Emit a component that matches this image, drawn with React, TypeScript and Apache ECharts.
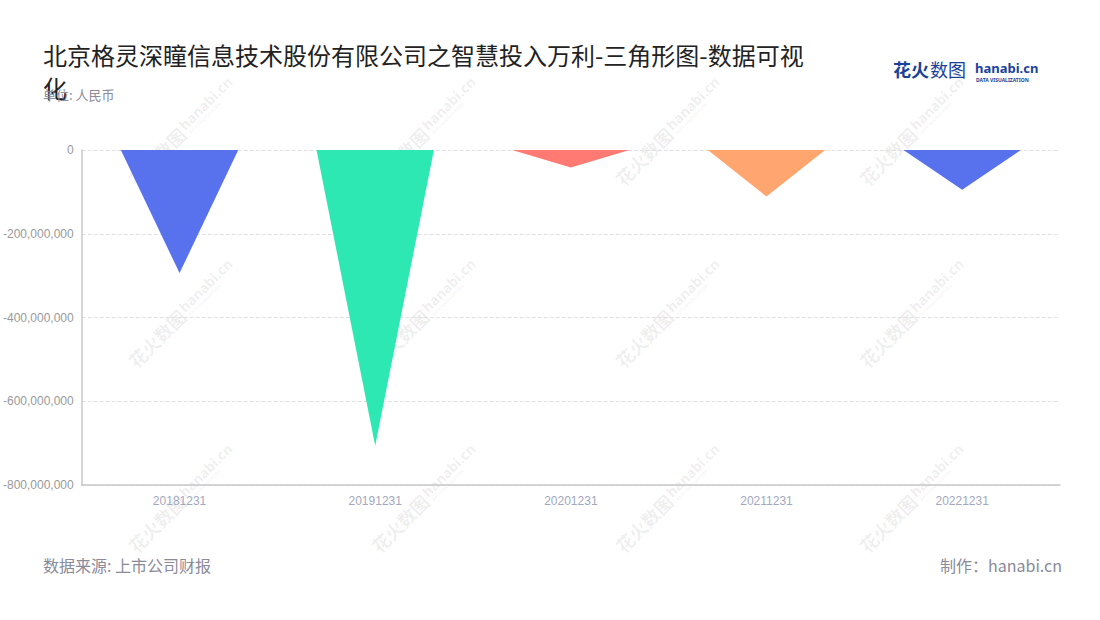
import React, { useEffect, useRef } from "react";
import * as echarts from "echarts";

const categories = ["20181231", "20191231", "20201231", "20211231", "20221231"];
const values = [-294000000, -706000000, -42000000, -111000000, -95000000];
const colors = ["#5872ee", "#2de8b2", "#ff7a73", "#ffa570", "#5872ee"];
const titleText = "北京格灵深瞳信息技术股份有限公司之智慧投入万利-三角形图-数据可视化";
const unitText = "单位: 人民币";
const sourceText = "数据来源: 上市公司财报";
const makerText = "制作：hanabi.cn";

const wmCols = [185, 428, 672, 916];
const wmRows = [128, 310, 495];

export default function App() {
  const ref = useRef<HTMLDivElement>(null);
  useEffect(() => {
    if (!ref.current) return;
    const chart = echarts.init(ref.current, undefined, { renderer: "svg" });
    const wmColor = "rgba(0,0,0,0.075)";
    const watermarks: any[] = [];
    wmCols.forEach((cx) =>
      wmRows.forEach((cy) => {
        watermarks.push({
          type: "group",
          x: cx,
          y: cy,
          rotation: Math.PI / 4,
          silent: true,
          z: -10,
          children: [
            {
              type: "text",
              x: -76,
              y: 0,
              style: {
                text: "花火数图",
                font: "bold 18px 'Noto Sans CJK SC'",
                fill: wmColor,
                verticalAlign: "middle",
              },
            },
            {
              type: "text",
              x: -2,
              y: -3,
              style: {
                text: "hanabi.cn",
                font: "bold 14px 'Noto Sans'",
                fill: wmColor,
                verticalAlign: "middle",
              },
            },
            {
              type: "text",
              x: 0,
              y: 7,
              style: {
                text: "DATA VISUALIZATION",
                font: "bold 4px 'Noto Sans'",
                fill: wmColor,
                verticalAlign: "middle",
              },
            },
          ],
        });
      })
    );
    chart.setOption({
      animation: false,
      backgroundColor: "#fff",
      title: [
        {
          text: titleText,
          left: 43,
          top: 38,
          padding: 0,
          textStyle: {
            fontSize: 24,
            fontWeight: "normal",
            color: "#222",
            width: 770,
            overflow: "break",
            lineHeight: 33,
            fontFamily: "'Noto Sans CJK SC'",
          },
        },
        {
          text: unitText,
          left: 43,
          top: 88,
          padding: 0,
          textStyle: {
            fontSize: 13,
            fontWeight: "normal",
            color: "#8a8a99",
            fontFamily: "'Noto Sans CJK SC'",
          },
        },
      ],
      grid: { left: 80, right: 40, top: 150, bottom: 135 },
      xAxis: {
        type: "category",
        data: categories,
        axisLine: { onZero: false, lineStyle: { color: "#c8c8c8", width: 1.5 } },
        axisTick: { alignWithLabel: true, lineStyle: { color: "#c8c8c8" } },
        axisLabel: { color: "#a3a8bd", fontSize: 12, margin: 10 },
      },
      yAxis: {
        type: "value",
        min: -800000000,
        max: 0,
        interval: 200000000,
        axisLine: { show: true, lineStyle: { color: "#c8c8c8", width: 1.5 } },
        axisTick: { show: false },
        axisLabel: {
          color: "#999",
          fontSize: 12,
          formatter: (v: number) => v.toLocaleString("en-US"),
        },
        splitLine: { lineStyle: { type: "dashed", color: "#e0e0e0" } },
      },
      series: [
        {
          type: "custom",
          data: values.map((v, i) => [i, v]),
          renderItem: (params: any, api: any) => {
            const idx = api.value(0);
            const val = api.value(1);
            const base = api.coord([idx, 0]);
            const tip = api.coord([idx, val]);
            const w = api.size([1, 0])[0] * 0.6;
            return {
              type: "polygon",
              shape: {
                points: [
                  [base[0] - w / 2, base[1]],
                  [base[0] + w / 2, base[1]],
                  [tip[0], tip[1]],
                ],
              },
              style: { fill: colors[params.dataIndex % colors.length] },
            };
          },
          encode: { x: 0, y: 1 },
        },
      ],
      graphic: [
        ...watermarks,
        {
          type: "text",
          left: 43,
          top: 557,
          style: {
            text: sourceText,
            font: "16px 'Noto Sans CJK SC'",
            fill: "#8a8a99",
          },
        },
        {
          type: "text",
          right: 38,
          top: 557,
          style: {
            text: makerText,
            font: "16px 'Noto Sans CJK SC'",
            fill: "#8a8a99",
          },
        },
        {
          type: "text",
          left: 893,
          top: 60,
          style: {
            text: "花火",
            font: "bold 18px 'Noto Sans CJK SC'",
            fill: "#1a4299",
          },
        },
        {
          type: "text",
          left: 930,
          top: 60,
          style: {
            text: "数图",
            font: "18px 'Noto Sans CJK SC'",
            fill: "#1a4299",
          },
        },
        {
          type: "text",
          left: 975,
          top: 61,
          style: {
            text: "hanabi.cn",
            font: "bold 13px 'Noto Sans'",
            fill: "#1a4299",
          },
        },
        {
          type: "text",
          left: 976,
          top: 77,
          style: {
            text: "DATA VISUALIZATION",
            font: "bold 5px 'Noto Sans'",
            fill: "#1a4299",
          },
        },
      ],
    });
    return () => chart.dispose();
  }, []);
  return (
    <div
      ref={ref}
      style={{ position: "fixed", left: 0, top: 0, width: 1100, height: 620 }}
    />
  );
}
